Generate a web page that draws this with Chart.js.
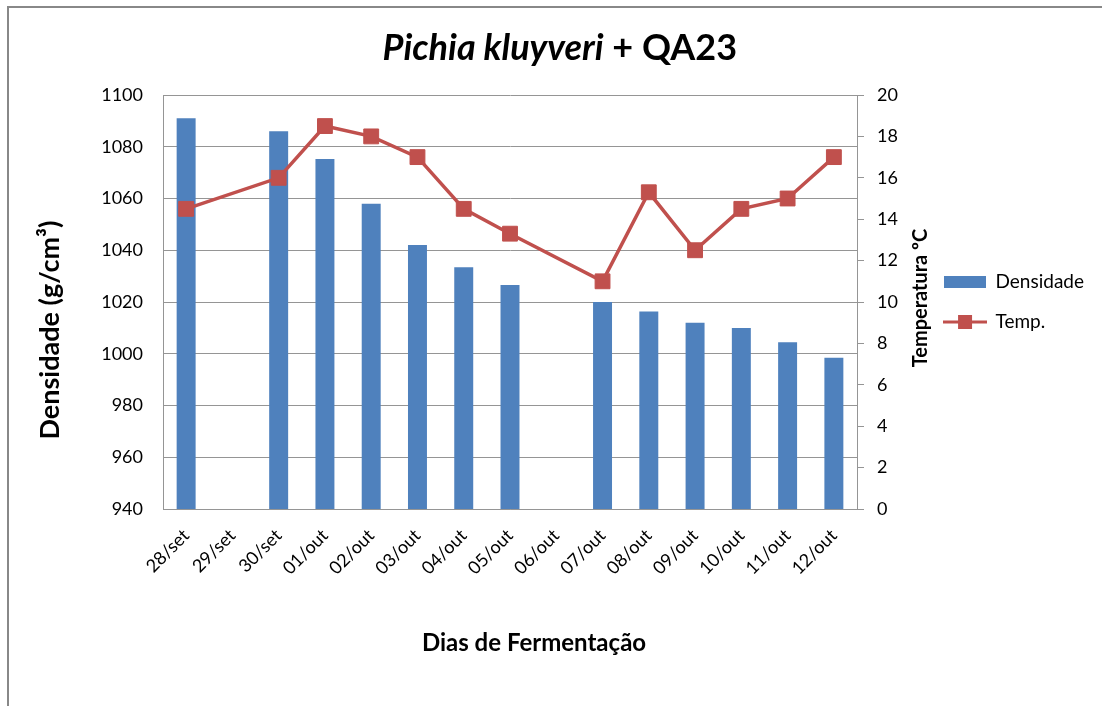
<!DOCTYPE html>
<html>
<head>
<meta charset="utf-8">
<title>Pichia kluyveri + QA23</title>
<script src="https://cdn.jsdelivr.net/npm/chart.js@4.4.0/dist/chart.umd.min.js"></script>
<style>
    html, body { margin: 0; padding: 0; background: #fff; overflow: hidden; }
    #frame { position: absolute; left: 7px; top: 6px; width: 1200px; height: 800px;
             border-left: 2px solid #888; border-top: 2px solid #888; }
    #wrap { position: absolute; left: 0; top: 0; width: 1102px; height: 706px; }
</style>
</head>
<body>
<div id="frame"></div>
<div id="wrap"><canvas id="chart"></canvas></div>
<script>
const dias = ['28/set', '29/set', '30/set', '01/out', '02/out', '03/out', '04/out', '05/out',
              '06/out', '07/out', '08/out', '09/out', '10/out', '11/out', '12/out'];
const densidade = [1091, null, 1086, 1075.3, 1058, 1042, 1033.4, 1026.6, null, 1020, 1016.3, 1012, 1010, 1004.4, 998.5];
const temperatura = [14.5, null, 16, 18.5, 18, 17, 14.5, 13.3, null, 11, 15.3, 12.5, 14.5, 15, 17];

const tituloItalico = 'Pichia kluyveri';
const tituloResto = ' + QA23';
const tituloY = 'Densidade (g/cm³)';
const tituloY2 = 'Temperatura ºC';
const tituloX = 'Dias de Fermentação';

const azul = '#4F81BD';
const vermelho = '#C0504D';
const cinza = '#959595';
const fonte = 'Lato';

// simbolos da legenda
function simboloBarra() {
    const c = document.createElement('canvas');
    c.width = 42; c.height = 12;
    const g = c.getContext('2d');
    g.fillStyle = azul;
    g.fillRect(0, 0, 42, 12);
    return c;
}
function simboloLinha() {
    const c = document.createElement('canvas');
    c.width = 44; c.height = 16;
    const g = c.getContext('2d');
    g.strokeStyle = vermelho;
    g.lineWidth = 3;
    g.beginPath(); g.moveTo(0, 8); g.lineTo(44, 8); g.stroke();
    g.fillStyle = vermelho;
    g.fillRect(15, 1, 14, 14);
    return c;
}

const textos = {
    id: 'textos',
    afterDraw(chart) {
        const ctx = chart.ctx;
        const a = chart.chartArea;
        ctx.save();
        ctx.fillStyle = '#000';
        // titulo com parte em italico
        ctx.textBaseline = 'alphabetic';
        ctx.textAlign = 'left';
        ctx.font = 'italic bold 36px ' + fonte;
        const w1 = ctx.measureText(tituloItalico).width;
        ctx.font = 'bold 36px ' + fonte;
        const w2 = ctx.measureText(tituloResto).width;
        const x0 = chart.width * 0.508 - (w1 + w2) / 2;
        ctx.font = 'italic bold 36px ' + fonte;
        ctx.fillText(tituloItalico, x0, a.top - 35);
        ctx.font = 'bold 36px ' + fonte;
        ctx.fillText(tituloResto, x0 + w1, a.top - 35);

        // titulos dos eixos
        ctx.textAlign = 'center';
        ctx.textBaseline = 'middle';
        ctx.font = 'bold 27px ' + fonte;
        ctx.save();
        ctx.translate(a.left - 113, (a.top + a.bottom) / 2 + 28);
        ctx.rotate(-Math.PI / 2);
        ctx.fillText(tituloY, 0, 0);
        ctx.restore();

        ctx.font = 'bold 20px ' + fonte;
        ctx.save();
        ctx.translate(a.right + 64, (a.top + a.bottom) / 2 - 4);
        ctx.rotate(-Math.PI / 2);
        ctx.fillText(tituloY2, 0, 0);
        ctx.restore();

        ctx.font = 'bold 24px ' + fonte;
        ctx.fillText(tituloX, (a.left + a.right) / 2 + 24, a.bottom + 134);
        ctx.restore();
    }
};

const ctx = document.getElementById('chart').getContext('2d');
new Chart(ctx, {
    type: 'bar',
    data: {
        labels: dias,
        datasets: [{
            type: 'bar',
            label: 'Densidade',
            data: densidade,
            backgroundColor: azul,
            yAxisID: 'y',
            categoryPercentage: 1,
            barPercentage: 0.41,
            order: 2
        }, {
            type: 'line',
            label: 'Temp.',
            data: temperatura,
            borderColor: vermelho,
            backgroundColor: vermelho,
            borderWidth: 3.5,
            pointStyle: 'rect',
            pointRadius: 10.5,
            pointBorderWidth: 1,
            spanGaps: true,
            yAxisID: 'y1',
            order: 1
        }]
    },
    options: {
        responsive: true,
        maintainAspectRatio: false,
        animation: false,
        layout: { padding: { top: 95, right: 8, bottom: 0, left: 0 } },
        plugins: {
            title: { display: false },
            tooltip: { enabled: false },
            legend: {
                position: 'right',
                fullSize: false,
                labels: {
                    usePointStyle: true,
                    pointStyleWidth: 42,
                    padding: 21,
                    color: '#000',
                    font: { family: fonte, size: 19 },
                    generateLabels(chart) {
                        return chart.data.datasets.map((ds, i) => ({
                            text: ds.label,
                            pointStyle: i === 0 ? simboloBarra() : simboloLinha(),
                            fillStyle: ds.backgroundColor,
                            strokeStyle: ds.borderColor,
                            lineWidth: 0,
                            hidden: false,
                            datasetIndex: i
                        }));
                    }
                }
            }
        },
        scales: {
            x: {
                grid: { display: false },
                border: { display: true, color: cinza },
                ticks: {
                    color: '#000',
                    font: { family: fonte, size: 18 },
                    minRotation: 45,
                    maxRotation: 45,
                    padding: 8,
                    autoSkip: false
                },
                afterFit(scale) { scale.height = 197; }
            },
            y: {
                position: 'left',
                min: 940,
                max: 1100,
                grid: { color: cinza, drawTicks: false },
                border: { display: true, color: cinza },
                ticks: {
                    stepSize: 20,
                    color: '#000',
                    font: { family: fonte, size: 18 },
                    padding: 20,
                    callback: v => String(v)
                },
                afterFit(scale) { scale.width = 163; }
            },
            y1: {
                position: 'right',
                min: 0,
                max: 20,
                grid: { drawOnChartArea: false, color: cinza, tickLength: 7 },
                border: { display: true, color: cinza },
                ticks: {
                    stepSize: 2,
                    color: '#000',
                    font: { family: fonte, size: 18 },
                    padding: 13
                },
                afterFit(scale) { scale.width = 66; }
            }
        }
    },
    plugins: [textos]
});
</script>
</body>
</html>
